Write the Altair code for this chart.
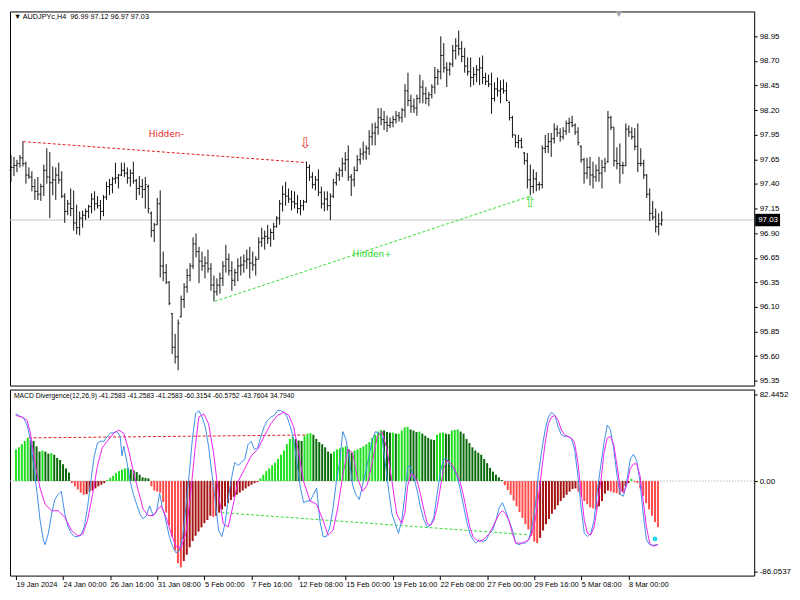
import json
import numpy as np
import pandas as pd
import altair as alt

# ---------------- data ----------------
SYMBOL_TITLE = "\u25bc AUDJPYc,H4\u00a0\u00a096.99 97.12 96.97 97.03"
MACD_TITLE = "MACD Divergence(12,26,9) -41.2583 -41.2583 -41.2583 -60.3154 -60.5752 -43.7604 34.7940"

DATE_LABELS = ["19 Jan 2024", "24 Jan 00:00", "26 Jan 16:00", "31 Jan 08:00", "5 Feb 00:00",
               "7 Feb 16:00", "12 Feb 08:00", "15 Feb 00:00", "19 Feb 16:00", "22 Feb 08:00",
               "27 Feb 00:00", "29 Feb 16:00", "5 Mar 08:00", "8 Mar 00:00"]
PRICE_LABELS = ["98.95", "98.70", "98.45", "98.20", "97.95", "97.65", "97.40", "97.15",
                "96.90", "96.65", "96.35", "96.10", "95.85", "95.60", "95.35"]
MACD_LABELS = ["82.4452", "0.00", "-86.0537"]
MACD_LABEL_VALUES = [82.4452, 0.0, -86.0537]
LAST_PRICE = 97.03

HIGH = [
    97.71, 97.69, 97.66, 97.71, 97.85, 97.64, 97.58, 97.54, 97.46, 97.48,
    97.41, 97.61, 97.78, 97.74, 97.59, 97.58, 97.63, 97.54, 97.31, 97.24,
    97.36, 97.34, 97.19, 97.12, 97.13, 97.15, 97.19, 97.31, 97.33, 97.28,
    97.24, 97.29, 97.43, 97.46, 97.48, 97.63, 97.51, 97.63, 97.63, 97.58,
    97.56, 97.64, 97.46, 97.49, 97.46, 97.48, 97.40, 97.12, 97.00, 97.26,
    97.34, 96.70, 96.57, 96.39, 96.06, 95.84, 95.99, 96.24, 96.37, 96.52,
    96.58, 96.85, 96.89, 96.75, 96.70, 96.65, 96.72, 96.58, 96.45, 96.42,
    96.48, 96.60, 96.77, 96.68, 96.60, 96.52, 96.63, 96.65, 96.67, 96.72,
    96.75, 96.70, 96.65, 96.85, 96.95, 96.92, 96.98, 96.94, 97.00, 97.07,
    97.24, 97.39, 97.43, 97.36, 97.34, 97.33, 97.29, 97.24, 97.24, 97.64,
    97.61, 97.53, 97.49, 97.56, 97.38, 97.33, 97.33, 97.31, 97.46, 97.53,
    97.58, 97.68, 97.74, 97.81, 97.51, 97.59, 97.71, 97.78, 97.85, 97.81,
    97.97, 98.04, 98.05, 98.20, 98.20, 98.17, 98.12, 98.10, 98.12, 98.17,
    98.16, 98.20, 98.45, 98.57, 98.34, 98.30, 98.34, 98.55, 98.49, 98.42,
    98.37, 98.45, 98.63, 98.61, 98.95, 98.88, 98.68, 98.68, 98.86, 98.93,
    99.01, 98.90, 98.83, 98.73, 98.73, 98.63, 98.65, 98.73, 98.75, 98.57,
    98.55, 98.57, 98.47, 98.52, 98.49, 98.50, 98.47, 98.27, 98.12, 97.92,
    97.92, 97.89, 97.74, 97.73, 97.61, 97.56, 97.53, 97.43, 97.81, 97.92,
    97.94, 97.94, 98.04, 98.02, 97.99, 98.00, 98.07, 98.10, 98.12, 98.04,
    98.00, 97.81, 97.68, 97.68, 97.69, 97.64, 97.61, 97.69, 97.66, 97.68,
    98.17, 98.12, 98.00, 97.79, 97.83, 97.64, 98.04, 98.02, 98.00, 97.99,
    98.04, 97.78, 97.66, 97.51, 97.36, 97.23, 97.15, 97.10, 97.12]

LOW = [
    97.43, 97.49, 97.53, 97.58, 97.59, 97.41, 97.46, 97.33, 97.24, 97.24,
    97.23, 97.28, 97.41, 97.05, 97.29, 97.24, 97.41, 97.26, 97.00, 97.08,
    97.07, 96.92, 96.88, 96.87, 96.95, 97.03, 97.05, 97.10, 97.13, 97.15,
    97.03, 97.07, 97.24, 97.29, 97.31, 97.41, 97.36, 97.49, 97.48, 97.41,
    97.38, 97.41, 97.24, 97.29, 97.26, 97.15, 97.10, 96.85, 96.80, 96.98,
    96.43, 96.39, 96.36, 96.14, 95.63, 95.53, 95.46, 96.01, 96.11, 96.27,
    96.39, 96.52, 96.64, 96.37, 96.50, 96.42, 96.48, 96.29, 96.18, 96.24,
    96.26, 96.34, 96.48, 96.45, 96.29, 96.34, 96.39, 96.45, 96.48, 96.52,
    96.42, 96.50, 96.45, 96.62, 96.75, 96.72, 96.78, 96.75, 96.82, 96.95,
    96.98, 97.12, 97.18, 97.21, 97.13, 97.15, 97.10, 97.08, 97.13, 97.21,
    97.44, 97.36, 97.34, 97.28, 97.15, 97.12, 97.13, 97.03, 97.26, 97.39,
    97.44, 97.48, 97.54, 97.44, 97.28, 97.38, 97.54, 97.61, 97.66, 97.66,
    97.71, 97.81, 97.81, 97.92, 98.02, 97.97, 97.95, 97.99, 98.00, 98.04,
    98.06, 98.05, 98.10, 98.22, 98.15, 98.15, 98.12, 98.25, 98.25, 98.24,
    98.22, 98.30, 98.35, 98.44, 98.50, 98.57, 98.42, 98.54, 98.63, 98.71,
    98.75, 98.68, 98.57, 98.54, 98.42, 98.44, 98.47, 98.44, 98.45, 98.44,
    98.42, 98.14, 98.27, 98.32, 98.25, 98.35, 98.27, 98.07, 97.89, 97.79,
    97.78, 97.78, 97.61, 97.36, 97.29, 97.31, 97.33, 97.34, 97.36, 97.73,
    97.73, 97.69, 97.83, 97.90, 97.85, 97.87, 97.92, 97.94, 98.00, 97.92,
    97.81, 97.63, 97.41, 97.46, 97.39, 97.36, 97.43, 97.43, 97.36, 97.53,
    97.63, 97.97, 97.59, 97.56, 97.41, 97.51, 97.59, 97.90, 97.87, 97.76,
    97.53, 97.59, 97.46, 97.26, 97.02, 97.03, 96.90, 96.87, 96.97]

OPEN = [
    97.55, 97.58, 97.60, 97.62, 97.68, 97.62, 97.50, 97.48, 97.38, 97.33,
    97.30, 97.38, 97.55, 97.48, 97.42, 97.45, 97.50, 97.45, 97.28, 97.12,
    97.20, 97.15, 97.00, 96.95, 97.05, 97.08, 97.12, 97.17, 97.25, 97.20,
    97.18, 97.12, 97.27, 97.38, 97.40, 97.46, 97.47, 97.50, 97.55, 97.52,
    97.47, 97.52, 97.44, 97.36, 97.38, 97.35, 97.38, 97.10, 96.92, 96.98,
    97.20, 96.55, 96.48, 96.38, 96.05, 95.70, 95.60, 96.02, 96.20, 96.33,
    96.45, 96.55, 96.78, 96.70, 96.60, 96.55, 96.58, 96.52, 96.35, 96.28,
    96.35, 96.42, 96.55, 96.62, 96.50, 96.40, 96.48, 96.55, 96.56, 96.60,
    96.62, 96.58, 96.56, 96.62, 96.80, 96.84, 96.86, 96.84, 96.90, 96.96,
    97.05, 97.20, 97.30, 97.28, 97.25, 97.22, 97.20, 97.15, 97.18, 97.22,
    97.58, 97.48, 97.40, 97.45, 97.32, 97.20, 97.25, 97.18, 97.28, 97.42,
    97.50, 97.55, 97.62, 97.66, 97.48, 97.45, 97.55, 97.66, 97.72, 97.74,
    97.78, 97.90, 97.94, 98.00, 98.10, 98.08, 98.05, 98.02, 98.05, 98.08,
    98.12, 98.10, 98.18, 98.38, 98.28, 98.22, 98.20, 98.30, 98.42, 98.35,
    98.30, 98.34, 98.42, 98.52, 98.58, 98.75, 98.62, 98.60, 98.66, 98.80,
    98.85, 98.82, 98.74, 98.64, 98.58, 98.52, 98.55, 98.60, 98.62, 98.52,
    98.48, 98.45, 98.30, 98.40, 98.38, 98.40, 98.38, 98.26, 98.10, 97.92,
    97.84, 97.86, 97.73, 97.65, 97.45, 97.38, 97.46, 97.40, 97.40, 97.78,
    97.80, 97.85, 97.88, 97.98, 97.94, 97.90, 97.96, 98.04, 98.05, 98.02,
    97.95, 97.80, 97.66, 97.52, 97.58, 97.50, 97.48, 97.55, 97.52, 97.58,
    97.64, 98.10, 98.00, 97.65, 97.62, 97.60, 97.60, 97.98, 97.95, 97.90,
    97.80, 97.62, 97.62, 97.50, 97.30, 97.10, 97.06, 96.96, 96.99]

CLOSE = [
    97.58, 97.60, 97.62, 97.68, 97.62, 97.50, 97.48, 97.38, 97.33, 97.30,
    97.38, 97.55, 97.48, 97.42, 97.45, 97.50, 97.45, 97.28, 97.12, 97.20,
    97.15, 97.00, 96.95, 97.05, 97.08, 97.12, 97.17, 97.25, 97.20, 97.18,
    97.12, 97.27, 97.38, 97.40, 97.46, 97.47, 97.50, 97.55, 97.52, 97.47,
    97.52, 97.44, 97.36, 97.38, 97.35, 97.40, 97.15, 96.92, 96.98, 97.20,
    96.55, 96.48, 96.38, 96.16, 95.70, 95.60, 95.95, 96.20, 96.33, 96.45,
    96.55, 96.78, 96.70, 96.60, 96.55, 96.58, 96.52, 96.35, 96.28, 96.35,
    96.42, 96.55, 96.62, 96.50, 96.40, 96.48, 96.55, 96.56, 96.60, 96.62,
    96.58, 96.56, 96.62, 96.80, 96.84, 96.86, 96.84, 96.90, 96.96, 97.05,
    97.20, 97.30, 97.28, 97.25, 97.22, 97.20, 97.15, 97.18, 97.22, 97.58,
    97.48, 97.40, 97.45, 97.32, 97.20, 97.25, 97.18, 97.28, 97.42, 97.50,
    97.55, 97.62, 97.66, 97.48, 97.45, 97.55, 97.66, 97.72, 97.74, 97.78,
    97.90, 97.94, 98.00, 98.10, 98.08, 98.05, 98.02, 98.05, 98.08, 98.12,
    98.10, 98.18, 98.38, 98.28, 98.22, 98.20, 98.30, 98.42, 98.35, 98.30,
    98.34, 98.42, 98.52, 98.58, 98.75, 98.62, 98.60, 98.66, 98.80, 98.85,
    98.82, 98.74, 98.64, 98.58, 98.52, 98.55, 98.60, 98.62, 98.52, 98.48,
    98.45, 98.30, 98.40, 98.38, 98.40, 98.38, 98.28, 98.10, 97.92, 97.84,
    97.86, 97.79, 97.65, 97.45, 97.38, 97.46, 97.40, 97.40, 97.78, 97.80,
    97.85, 97.88, 97.98, 97.94, 97.90, 97.96, 98.04, 98.05, 98.02, 97.95,
    97.84, 97.66, 97.52, 97.58, 97.50, 97.48, 97.55, 97.52, 97.58, 97.62,
    98.10, 98.00, 97.65, 97.62, 97.60, 97.60, 97.98, 97.95, 97.90, 97.80,
    97.62, 97.62, 97.50, 97.30, 97.10, 97.06, 96.96, 96.99, 97.03]

HIST = [
    30, 32, 35, 38, 41, 39, 38, 33, 28, 29,
    28, 26, 26.5, 25, 22, 20, 16, 12, 8, -2,
    -5, -8, -11, -13, -12.5, -10, -9, -7, -5, -3.5,
    -2, 1, 3, 5, 7.5, 9.5, 11, 12, 12.5, 11,
    10, 8.5, 6, 3.5, 3, 2.5, -5, -9, -10, -11,
    -20, -30, -42, -53, -66, -78, -82, -76, -70, -63,
    -57, -52, -48, -44, -40, -37, -33, -34, -33, -30,
    -27, -24, -21, -18, -15, -13, -11, -9, -7, -5,
    -3.5, -2, -1, 2.5, 6, 9.5, 12, 15, 17.5, 21,
    25, 29, 35, 40, 42, 40, 38.5, 38, 43, 45,
    45.5, 44, 40, 37, 35, 32, 28, 26, 28, 30,
    31, 32, 33, 30, 27, 29, 30, 31.5, 33, 35,
    37, 41, 44, 47, 48.5, 48, 46.5, 46, 46, 45,
    45, 48, 51, 51.5, 49, 48, 46.5, 47, 45, 43,
    41, 39.5, 39, 44, 45.5, 46, 45, 44.5, 48, 48.5,
    49, 47, 45, 40, 36, 32, 29, 27, 25, 21,
    17, 12.5, 9, 6, 3.5, 1, -4, -8.5, -13, -18.5,
    -24, -29.5, -35, -41, -46, -52, -57.5, -59, -54, -47,
    -41, -36, -31, -27, -23, -19, -16, -13, -10, -7.5,
    -7, -10, -15, -19, -22, -25, -26, -27, -24, -19,
    -12, -9, -10, -11, -11.5, -13, -10, -5, -2, 2,
    -1, -2, -7, -14, -21, -27, -33, -39, -43.76]

MACD_IDX = [-0.1, 1.0, 2.7, 3.8, 4.9, 6.0, 7.1, 8.2, 9.3, 9.9, 11.0, 12.1, 13.2, 14.3, 15.4,
            16.6, 17.7, 18.8, 19.9, 21.0, 22.1, 23.2, 24.3, 25.4, 26.6, 27.7, 28.8, 29.9, 31.0,
            32.1, 33.2, 34.3, 35.4, 36.0, 36.6, 37.7, 38.8, 39.9, 41.0, 42.1, 43.2, 44.3, 45.4,
            46.6, 47.7, 48.8, 49.7, 50.4, 52.1, 53.2, 54.3, 55.4, 56.6, 57.7, 58.8, 59.9, 61.0,
            62.1, 63.2, 64.3, 65.4, 66.6, 67.7, 68.8, 69.9, 71.0, 72.1, 73.2, 74.3, 75.4, 76.6,
            77.7, 78.8, 79.9, 81.0, 82.1, 83.2, 84.3, 85.4, 86.6, 87.7, 88.8, 89.9, 91.0, 92.1,
            93.2, 94.3, 95.4, 96.6, 97.7, 98.8, 99.9, 101.0, 102.1, 103.2, 104.3, 105.4, 106.6,
            107.7, 108.8, 109.9, 111.0, 112.1, 113.2, 114.3, 115.4, 116.6, 117.7, 118.8, 119.9,
            121.0, 122.1, 123.2, 124.3, 125.4, 126.6, 127.7, 128.8, 129.9, 131.0, 132.1, 133.0,
            133.6, 134.1, 135.2, 136.3, 137.4, 138.6, 139.7, 140.8, 141.9, 143.0, 144.1, 145.2,
            146.3, 147.4, 148.6, 149.7, 150.8, 151.9, 153.0, 154.1, 155.2, 156.3, 157.4, 158.6,
            159.7, 160.8, 161.9, 163.0, 164.1, 165.2, 166.3, 167.4, 168.6, 169.7, 170.8, 171.9,
            173.0, 174.1, 175.2, 176.3, 177.4, 178.6, 179.7, 180.8, 181.9, 183.0, 184.1, 185.2,
            186.3, 187.4, 188.6, 189.7, 190.8, 191.9, 193.0, 194.1, 195.2, 196.3, 197.4, 198.6,
            199.7, 200.8, 201.9, 203.0, 204.1, 205.2, 206.3, 207.4, 208.6, 209.7, 210.8, 211.9,
            213.0, 214.1, 215.2, 216.3, 217.4, 218.0]
MACD_VAL = [63.8, 62.3, 59.2, 53.1, 39.3, 14.7, -9.8, -37.4, -55.9, -60.5, -49.7, -31.3, -17.5,
            -12.9, -9.8, -31.3, -43.6, -49.7, -52.8, -52.8, -51.3, -43.6, -25.2, -0.6, 23.9, 36.2,
            37.8, 37.8, 42.4, 45.4, 46.0, 47.0, 42.4, 23.9, 33.1, 17.8, -0.6, -12.9, -22.1, -31.3,
            -35.9, -32.8, -23.6, -32.8, -29.8, -11.4, -25.2, -31.3, -52.8, -62.0, -68.1, -66.6,
            -52.8, -25.2, 5.5, 39.3, 63.8, 66.9, 60.8, 51.6, 33.1, 5.5, -19.0, -46.7, -52.8, -40.5,
            -16.0, 2.5, 17.8, 14.7, 17.8, 20.9, 34.7, 37.8, 30.1, 31.6, 42.4, 51.6, 57.7, 60.8,
            62.3, 66.9, 66.9, 65.4, 60.8, 51.6, 39.3, 17.8, -6.8, -20.6, -19.0, -19.0, -12.9, -6.8,
            -37.4, -52.8, -52.8, -43.6, -25.2, -0.6, 17.8, 47.0, 39.3, 20.9, -3.7, -12.9, -17.5,
            -3.7, 8.6, 23.9, 39.3, 47.0, 45.4, 42.4, 17.8, -9.8, -31.3, -40.5, -49.7, -37.4, -12.9,
            12.0, 14.7, 11.7, 2.5, -9.8, -25.2, -37.4, -43.6, -42.1, -34.4, -12.9, 8.6, 20.9, 20.9,
            14.7, 11.7, 5.5, -6.8, -22.1, -37.4, -49.7, -55.9, -58.9, -55.9, -57.4, -55.9, -49.7,
            -46.7, -37.4, -25.2, -20.6, -28.2, -37.4, -46.7, -58.9, -60.5, -58.9, -58.9, -55.9,
            -43.6, -25.2, 5.5, 30.1, 48.5, 60.8, 65.4, 62.3, 51.6, 43.9, 42.4, 42.4, 40.8, 30.1,
            5.5, -25.2, -49.7, -52.8, -49.7, -37.4, -9.8, 14.7, 36.2, 53.1, 48.5, 30.1, 5.5, -12.9,
            -14.4, -0.6, 20.9, 25.5, 19.3, -0.6, -31.3, -55.9, -60.5, -61.0, -60.5, -60.3]

SIGNAL_IDX = [-0.1, 2.1, 3.8, 4.9, 6.6, 8.2, 9.9, 12.1, 14.3, 16.6, 18.8, 21.0, 22.7, 24.3, 26.0,
              27.7, 29.3, 31.0, 33.2, 34.9, 36.6, 38.2, 39.9, 41.6, 43.2, 44.9, 46.6, 48.2, 49.3,
              51.0, 52.7, 54.3, 56.0, 57.7, 59.3, 60.8, 62.1, 63.8, 65.4, 67.1, 68.8, 70.4, 72.1,
              73.8, 75.4, 77.7, 79.9, 82.1, 84.3, 86.6, 88.8, 91.0, 92.7, 94.3, 96.0, 97.7, 99.9,
              102.1, 104.3, 106.0, 107.7, 109.3, 111.0, 112.7, 114.3, 116.0, 117.7, 119.3, 121.0,
              122.7, 124.3, 126.0, 127.7, 129.3, 131.0, 132.1, 133.0, 134.1, 135.2, 136.3, 137.4,
              138.6, 139.7, 140.8, 141.9, 143.0, 144.1, 145.2, 146.3, 147.4, 148.6, 149.7, 150.8,
              151.9, 153.0, 154.1, 155.2, 156.3, 157.4, 158.6, 159.7, 160.8, 161.9, 163.0, 164.1,
              165.2, 166.3, 167.4, 168.6, 169.7, 170.8, 171.9, 173.0, 174.1, 175.2, 176.3, 177.4,
              178.6, 179.7, 180.8, 181.9, 183.0, 184.1, 185.2, 186.3, 187.4, 188.6, 189.7, 190.8,
              191.9, 193.0, 194.1, 195.2, 196.3, 197.4, 198.6, 199.7, 200.8, 201.9, 203.0, 204.1,
              205.2, 206.3, 207.4, 208.6, 209.7, 210.8, 211.9, 213.0, 214.1, 215.2, 216.3, 217.4,
              218.0]
SIGNAL_VAL = [62.3, 60.8, 57.7, 45.4, 14.7, -6.8, -22.1, -28.2, -28.2, -34.4, -46.7, -52.2, -50.3,
              -37.4, -12.9, 14.7, 31.6, 37.8, 45.4, 48.5, 45.4, 30.1, 8.6, -9.8, -26.7, -32.8,
              -32.8, -26.7, -23.6, -34.4, -49.7, -62.0, -63.5, -49.7, -12.9, 30.1, 60.8, 63.8,
              54.6, 27.0, -12.9, -40.5, -43.6, -22.1, -0.6, 11.7, 23.9, 30.1, 42.4, 54.6, 62.3,
              65.4, 62.3, 51.6, 27.0, -0.6, -19.0, -22.1, -37.4, -51.3, -46.7, -25.2, 5.5, 30.1,
              27.0, 2.5, -9.8, -3.7, 17.8, 42.4, 47.0, 30.1, -0.6, -31.3, -40.5, -30.0, -5.0, 7.1,
              5.5, -0.6, -12.9, -28.2, -40.5, -42.1, -37.4, -25.2, -6.8, 11.7, 19.3, 17.8, 13.2,
              7.1, -0.6, -12.9, -28.2, -43.6, -52.8, -55.9, -57.4, -55.9, -52.8, -49.7, -43.6,
              -37.4, -31.3, -28.2, -31.3, -37.4, -49.7, -58.9, -58.9, -58.9, -57.4, -55.9, -49.7,
              -37.4, -16.0, 11.7, 36.2, 54.6, 60.8, 62.3, 57.7, 48.5, 43.9, 42.4, 40.8, 36.2, 17.8,
              -9.8, -37.4, -49.7, -51.3, -43.6, -25.2, -0.6, 27.0, 40.8, 42.4, 34.7, 14.7, -6.8,
              -11.4, -3.7, 11.7, 16.3, 16.3, 5.5, -19.0, -43.6, -58.9, -62.0, -61.0, -60.6]

# divergence lines (bar index, value)
PRICE_DIV_RED_IDX = [4, 99]
PRICE_DIV_RED_VAL = [97.85, 97.63]
PRICE_DIV_GREEN_IDX = [68.3, 174]
PRICE_DIV_GREEN_VAL = [96.18, 97.28]
MACD_DIV_RED_IDX = [4.3, 98.7]
MACD_DIV_RED_VAL = [41, 43.7]
MACD_DIV_GREEN_IDX = [69.7, 174]
MACD_DIV_GREEN_VAL = [-30, -51]
SIGNAL_DOT = (217, -55)

# ---------------- layout ----------------
W, H1, H2 = 748, 376, 187
XDOM = [-1 / 3, 748 / 3 - 1 / 3]
PDOM = [95.30, 99.21]
MDOM = [-89.8, 86.9]
FONT = "Liberation Sans"
TICK_TOP = 98.95
TICK_STEP = 0.257143
AX_FS = 8

n = len(HIGH)
bars = pd.DataFrame({"i": np.arange(n), "o": OPEN, "h": HIGH, "l": LOW, "c": CLOSE})
bars["xo"] = bars["i"] - 0.45
bars["xc"] = bars["i"] + 0.45

h = np.array(HIST, dtype=float)
prev = np.concatenate([[h[0] - 1], h[:-1]])
cat = np.where(h >= 0, np.where(h >= prev, "pos_up", "pos_dn"), np.where(h <= prev, "neg_dn", "neg_up"))
hist = pd.DataFrame({"i": np.arange(n), "v": h, "k": cat})

xs = alt.Scale(domain=XDOM, nice=False, zero=False)
ps = alt.Scale(domain=PDOM, nice=False, zero=False)
ms = alt.Scale(domain=MDOM, nice=False, zero=False)

price_tick_values = [TICK_TOP - k * TICK_STEP for k in range(len(PRICE_LABELS))]
price_axis = alt.Axis(orient="right", values=price_tick_values,
                      labelExpr=f"{json.dumps(PRICE_LABELS)}[round(({TICK_TOP} - datum.value)/{TICK_STEP})]",
                      tickSize=3, domain=False, grid=False, title=None, labelFontSize=AX_FS,
                      labelPadding=2, labelColor="black", tickColor="black", labelFont=FONT,
                      labelOverlap=False, labelFlush=False)
macd_axis = alt.Axis(orient="right", values=MACD_LABEL_VALUES,
                     labelExpr=f"datum.value > 1 ? '{MACD_LABELS[0]}' : (datum.value < -1 ? '{MACD_LABELS[2]}' : '{MACD_LABELS[1]}')",
                     tickSize=3, domain=False, grid=False, title=None, labelFontSize=AX_FS,
                     labelPadding=2, labelColor="black", tickColor="black", labelFont=FONT,
                     labelOverlap=False, labelFlush=False)
date_axis = alt.Axis(values=list(range(0, 16 * len(DATE_LABELS), 16)),
                     labelExpr=f"{json.dumps(DATE_LABELS)}[round(datum.value/16)]",
                     labelAlign="left", tickSize=4, labelPadding=1, domain=False, grid=False,
                     title=None, labelFontSize=7.5, labelColor="black", tickColor="black",
                     labelFont=FONT, labelFlush=False, labelOverlap=False)


def PX(f):
    return alt.X(f, type="quantitative", scale=xs, axis=None)


def PY(f):
    return alt.Y(f, type="quantitative", scale=ps, axis=price_axis)


def MX(f):
    return alt.X(f, type="quantitative", scale=xs, axis=date_axis)


def MY(f):
    return alt.Y(f, type="quantitative", scale=ms, axis=macd_axis)


# ---------------- price panel ----------------
base_bars = alt.Chart(bars)
last_line = alt.Chart(pd.DataFrame({"p": [LAST_PRICE]})).mark_rule(color="#c8c8c8", strokeWidth=1).encode(y=PY("p"))
hl = base_bars.mark_rule(color="#111111", strokeWidth=1).encode(x=PX("i"), y=PY("l"), y2="h:Q")
op = base_bars.mark_rule(color="#111111", strokeWidth=1).encode(x=PX("xo"), x2="i:Q", y=PY("o"))
cl = base_bars.mark_rule(color="#111111", strokeWidth=1).encode(x=PX("i"), x2="xc:Q", y=PY("c"))

red_div = alt.Chart(pd.DataFrame({"i": PRICE_DIV_RED_IDX, "p": PRICE_DIV_RED_VAL})).mark_line(
    color="#e02020", strokeWidth=1, strokeDash=[3, 2]).encode(x=PX("i"), y=PY("p"))
green_div = alt.Chart(pd.DataFrame({"i": PRICE_DIV_GREEN_IDX, "p": PRICE_DIV_GREEN_VAL})).mark_line(
    color="#33dd33", strokeWidth=1, strokeDash=[3, 2]).encode(x=PX("i"), y=PY("p"))

ann = pd.DataFrame({
    "i": [52, 121, 98.7, 174.0],
    "p": [97.93, 96.68, 97.84, 97.22],
    "t": ["Hidden-", "Hidden+", "\u21e9", "\u21e7"],
    "col": ["#e02020", "#22d822", "#e83030", "#44e044"],
    "fs": [9, 9, 15, 15],
})
ann_text = alt.Chart(ann).mark_text(font="DejaVu Sans", align="center", baseline="middle").encode(
    x=PX("i"), y=PY("p"), text="t:N", color=alt.Color("col:N", scale=None),
    size=alt.Size("fs:Q", scale=None))

sym_title = alt.Chart(pd.DataFrame({"t": [SYMBOL_TITLE]})).mark_text(
    align="left", baseline="middle", fontSize=7.3, font=FONT, color="black").encode(
    text="t:N", x=alt.value(4), y=alt.value(6))
shift_mark = alt.Chart(pd.DataFrame({"t": ["\u25bc"]})).mark_text(
    align="center", baseline="top", fontSize=8, font="DejaVu Sans", color="#a0a0a0").encode(
    text="t:N", x=alt.value(612), y=alt.value(-1))

price_box = alt.Chart(pd.DataFrame({"a": [LAST_PRICE + 0.065], "b": [LAST_PRICE - 0.065]})).mark_rect(
    color="black").encode(x=alt.value(W + 1), x2=alt.value(W + 26), y=PY("a"), y2="b:Q")
price_box_text = alt.Chart(pd.DataFrame({"p": [LAST_PRICE], "t": [f"{LAST_PRICE:.2f}"]})).mark_text(
    align="left", baseline="middle", fontSize=AX_FS, font=FONT, color="white").encode(
    x=alt.value(W + 4), y=PY("p"), text="t:N")

top = alt.layer(last_line, red_div, green_div, hl, op, cl, ann_text, sym_title, shift_mark,
                price_box, price_box_text).properties(width=W, height=H1)

# ---------------- MACD panel ----------------
zero_line = alt.Chart(pd.DataFrame({"v": [0]})).mark_rule(
    color="#9a9a9a", strokeDash=[1, 2], strokeWidth=1).encode(y=MY("v"))
hist_bars = alt.Chart(hist).mark_bar(size=2, orient="vertical").encode(
    x=MX("i"), y=MY("v"),
    color=alt.Color("k:N", legend=None, scale=alt.Scale(
        domain=["pos_up", "pos_dn", "neg_dn", "neg_up"],
        range=["#1fe01f", "#0a6a0a", "#ff4a4a", "#a51212"])))
m_red = alt.Chart(pd.DataFrame({"i": MACD_DIV_RED_IDX, "v": MACD_DIV_RED_VAL})).mark_line(
    color="#e02020", strokeWidth=1, strokeDash=[3, 2]).encode(x=MX("i"), y=MY("v"))
m_green = alt.Chart(pd.DataFrame({"i": MACD_DIV_GREEN_IDX, "v": MACD_DIV_GREEN_VAL})).mark_line(
    color="#33dd33", strokeWidth=1, strokeDash=[3, 2]).encode(x=MX("i"), y=MY("v"))
blue_line = alt.Chart(pd.DataFrame({"i": MACD_IDX, "v": MACD_VAL})).mark_line(
    color="#3d8fe8", strokeWidth=1, clip=True).encode(x=MX("i"), y=MY("v"))
mag_line = alt.Chart(pd.DataFrame({"i": SIGNAL_IDX, "v": SIGNAL_VAL})).mark_line(
    color="#ee22ee", strokeWidth=1, clip=True).encode(x=MX("i"), y=MY("v"))
dot = alt.Chart(pd.DataFrame({"i": [SIGNAL_DOT[0]], "v": [SIGNAL_DOT[1]]})).mark_point(
    filled=True, color="#19d7f0", size=22, opacity=1).encode(x=MX("i"), y=MY("v"))
macd_title = alt.Chart(pd.DataFrame({"t": [MACD_TITLE]})).mark_text(
    align="left", baseline="middle", fontSize=6.8, font=FONT, color="black").encode(
    text="t:N", x=alt.value(4), y=alt.value(7))

bottom = alt.layer(zero_line, hist_bars, m_red, m_green, blue_line, mag_line, dot,
                   macd_title).properties(width=W, height=H2)

chart = alt.vconcat(top, bottom, spacing=2).properties(
    padding=0, background="white").configure_view(stroke="black", strokeWidth=1)

chart.save("out.html", embed_options={"renderer": "svg", "actions": False})
